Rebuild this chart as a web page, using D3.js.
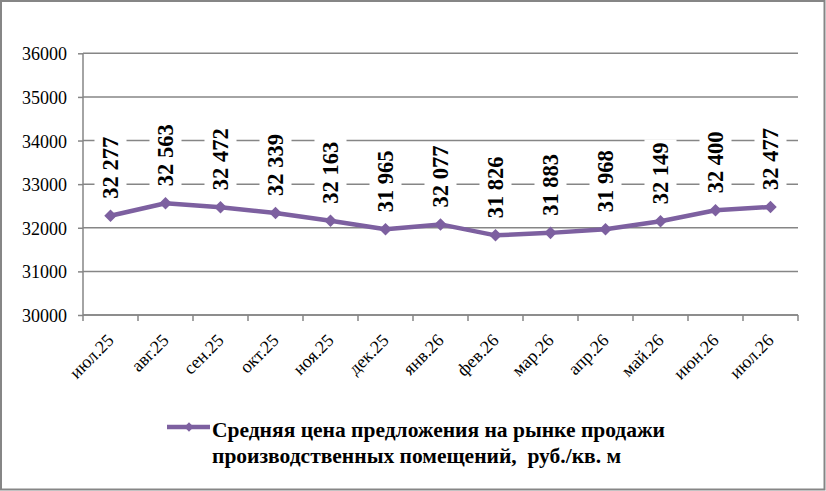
<!DOCTYPE html>
<html><head><meta charset="utf-8">
<script src="https://cdn.jsdelivr.net/npm/d3@7"></script>
<style>body{margin:0;background:#fff}svg{display:block}</style>
</head><body>
<svg id="c" width="826" height="491"></svg>
<script>
const categories = ["июл.25","авг.25","сен.25","окт.25","ноя.25","дек.25","янв.26","фев.26","мар.26","апр.26","май.26","июн.26","июл.26"];
const values = [32277,32563,32472,32339,32163,31965,32077,31826,31883,31968,32149,32400,32477];
const yTicks = [30000,31000,32000,33000,34000,35000,36000];
const seriesName = ["Средняя цена предложения на рынке продажи","производственных помещений,  руб./кв. м"];

const svg = d3.select("#c");
const W=826,H=491;
const grid="#868686", purple="#7D60A0", font="Liberation Serif, Times New Roman, serif";
svg.append("rect").attr("x",1).attr("y",1).attr("width",W-2.5).attr("height",H-2.5)
  .attr("fill","#fff").attr("stroke",grid).attr("stroke-width",2);

const L=83,R=798,T=53.3,B=315;
const x=d3.scaleBand().domain(categories).range([L,R]);
const y=d3.scaleLinear().domain([30000,36000]).range([B,T]);

// gridlines
svg.append("g").selectAll("line").data(yTicks).join("line")
  .attr("x1",L).attr("x2",R).attr("y1",d=>y(d)).attr("y2",d=>y(d))
  .attr("stroke",grid).attr("stroke-width",1.5);

// y axis
const ya=svg.append("g").attr("transform",`translate(${L},0)`)
  .call(d3.axisLeft(y).tickValues(yTicks).tickSize(5).tickPadding(11).tickFormat(d3.format("d")));
ya.attr("font-family",font);
ya.select(".domain").attr("stroke",grid).attr("stroke-width",1.5).attr("d",`M-0,${B}V${T}`);
ya.selectAll(".tick line").attr("stroke",grid).attr("stroke-width",1.5);
ya.selectAll(".tick text").attr("font-family",font).attr("font-size",18).attr("fill","#000").attr("dy","0.36em");

// x axis
const xa=svg.append("g").attr("transform",`translate(0,${B})`)
  .call(d3.axisBottom(x).tickSize(0).tickFormat(""));
xa.attr("font-family",font);
xa.select(".domain").attr("stroke",grid).attr("stroke-width",1.5).attr("d",`M${L},0H${R}`);
const xt=[L,...categories.map(c=>x(c)+x.bandwidth())];
xa.selectAll(".xt").data(xt).join("line").attr("class","xt")
  .attr("x1",d=>d).attr("x2",d=>d).attr("y1",0).attr("y2",6).attr("stroke",grid).attr("stroke-width",1.5);
xa.selectAll(".xl").data(categories).join("text").attr("class","xl")
  .attr("transform",d=>`translate(${x(d)+x.bandwidth()/2-4},18) rotate(-45)`)
  .attr("text-anchor","end").attr("dy","0.66em")
  .attr("font-family",font).attr("font-size",18).attr("fill","#000").text(d=>d);

const cx=d=>x(categories[d])+x.bandwidth()/2;
const pts=values.map((v,i)=>[cx(i),y(v)]);

// labels with white boxes
const fmt=v=>{const s=String(v);return s.slice(0,s.length-3)+" "+s.slice(-3);};
const lg=svg.append("g");
values.forEach((v,i)=>{
  const g=lg.append("g").attr("transform",`translate(${cx(i)},${y(v)-17}) rotate(-90)`);
  const t=g.append("text").attr("x",0).attr("y",0).attr("dy","0.33em")
    .attr("font-family",font).attr("font-size",22.5).attr("font-weight","bold").attr("fill","#000").text(fmt(v));
  const bb=t.node().getBBox();
  g.insert("rect","text").attr("x",bb.x-3).attr("y",-16).attr("width",bb.width+6).attr("height",32).attr("fill","#fff");
});

// line
svg.append("path").datum(pts).attr("d",d3.line()).attr("fill","none")
  .attr("stroke",purple).attr("stroke-width",4.5).attr("stroke-linejoin","round");
const sym=d3.symbol().type(d3.symbolDiamond2).size(100);
svg.append("g").selectAll("path").data(pts).join("path")
  .attr("transform",d=>`translate(${d[0]},${d[1]})`).attr("d",sym).attr("fill",purple);

// legend
svg.append("line").attr("x1",167).attr("x2",210).attr("y1",427).attr("y2",427).attr("stroke",purple).attr("stroke-width",4.5);
svg.append("path").attr("transform","translate(189,427)").attr("d",d3.symbol().type(d3.symbolDiamond2).size(55)).attr("fill",purple);
svg.append("g").selectAll("text").data(seriesName).join("text")
  .attr("x",212).attr("y",(d,i)=>437+i*26).attr("font-family",font).attr("font-size",21.5)
  .attr("font-weight","bold").attr("fill","#000").style("white-space","pre").text(d=>d);
</script>
</body></html>
